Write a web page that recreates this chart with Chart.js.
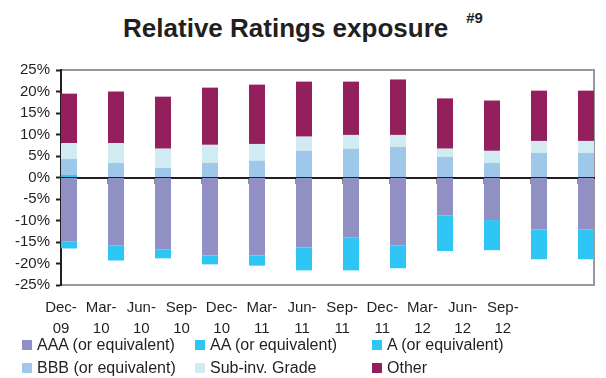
<!DOCTYPE html>
<html>
<head>
<meta charset="utf-8">
<script src="https://cdn.jsdelivr.net/npm/chart.js@4.4.0/dist/chart.umd.min.js"></script>
<style>
  body { margin: 0; background: #fff; font-family: Arial, "Liberation Sans", sans-serif; color: #231f20; }
  #wrap { position: relative; width: 606px; height: 378px; overflow: hidden; }
  #title { position: absolute; top: 13px; left: 0; width: 606px; text-align: center; font-weight: bold; font-size: 26px; line-height: 30px; }
  #title sup { font-size: 15px; vertical-align: top; position: relative; top: -10px; margin-left: 18px; }
  #box { position: absolute; left: 0; top: 48px; width: 606px; height: 295px; }
  #legend { position: absolute; left: 22px; top: 335px; display: grid; grid-template-columns: 173px 177px 200px; row-gap: 3px; font-size: 16px; }
  .item { display: flex; align-items: center; height: 20px; white-space: nowrap; }
  .swatch { width: 10px; height: 10px; margin-right: 5px; }
</style>
</head>
<body>
<div id="wrap">
  <div id="title">Relative Ratings exposure<sup>#9</sup></div>
  <div id="box"><canvas id="ratingsChart"></canvas></div>
  <div id="legend"></div>
</div>
<script>
// quarter ends
const periods = ['Dec-09', 'Mar-10', 'Jun-10', 'Sep-10', 'Dec-10', 'Mar-11',
                 'Jun-11', 'Sep-11', 'Dec-11', 'Mar-12', 'Jun-12', 'Sep-12'];

// relative exposure by rating bucket, % points
const aaa     = [-14.9, -15.8, -16.7, -18.1, -18.1, -16.3, -13.9, -15.8, -8.8, -9.9, -12.1, -12.1];
const aa      = [-1.6, -3.5, -2.1, -2.1, -2.4, -5.3, -7.7, -5.3, -8.3, -7.0, -6.9, -6.9];
const singleA = [0.6, 0, 0, 0, 0, 0, 0, 0, 0, 0, 0, 0];
const bbb     = [3.7, 3.4, 2.2, 3.4, 3.9, 6.2, 6.7, 7.1, 4.8, 3.4, 5.7, 5.7];
const subInv  = [3.7, 4.6, 4.5, 4.2, 3.9, 3.3, 3.2, 2.8, 1.9, 2.8, 2.8, 2.8];
const other   = [11.5, 12.0, 12.1, 13.3, 13.8, 12.8, 12.4, 12.9, 11.7, 11.7, 11.7, 11.7];

const yTicks = [-25, -20, -15, -10, -5, 0, 5, 10, 15, 20, 25];

const seriesNames = ['AAA (or equivalent)', 'AA (or equivalent)', 'A (or equivalent)',
                     'BBB (or equivalent)', 'Sub-inv. Grade', 'Other'];
const seriesValues = [aaa, aa, singleA, bbb, subInv, other];
const seriesColors = ['#9190c5', '#2fc5f4', '#2fc5f4', '#9fc7ea', '#d0ebf2', '#931f5c'];

const barFrac = 0.34;   // share of each slot taken by the bar
const ink = '#231f20';
const fontFamily = 'Arial, "Liberation Sans", sans-serif';

const datasets = seriesNames.map((name, s) => ({
    label: name,
    data: seriesValues[s].map((v, i) => ({ x: i, y: v })),
    backgroundColor: seriesColors[s],
    borderWidth: 0,
    xAxisID: 'x',
    yAxisID: 'y',
    categoryPercentage: barFrac,
    barPercentage: 1
}));

// grey frame round the plot area
const framePlugin = {
    id: 'frame',
    beforeDraw(chart) {
        const { ctx, chartArea: a } = chart;
        ctx.save();
        ctx.strokeStyle = '#98989b';
        ctx.lineWidth = 2;
        ctx.strokeRect(a.left, a.top, a.right - a.left, a.bottom - a.top);
        ctx.restore();
    }
};

new Chart(document.getElementById('ratingsChart'), {
    type: 'bar',
    data: { datasets },
    options: {
        responsive: true,
        maintainAspectRatio: false,
        animation: false,
        layout: { padding: { left: 9, right: 12, top: 22, bottom: 0 } },
        plugins: { legend: { display: false }, tooltip: { enabled: false } },
        scales: {
            x: {
                type: 'linear',
                position: { y: 0 },
                stacked: true,
                offset: false,
                min: -barFrac / 2,
                max: periods.length - 1 + barFrac / 2,
                z: 1,
                afterBuildTicks: scale => {
                    scale.ticks = periods.map((p, i) => ({ value: i - barFrac / 2 }));
                },
                ticks: { display: false },
                grid: { drawOnChartArea: false, offset: false, tickLength: 5, tickColor: ink, tickWidth: 2 },
                border: { color: ink, width: 2 }
            },
            xl: {
                type: 'linear',
                axis: 'x',
                position: 'bottom',
                offset: false,
                min: 0,
                max: 13.27,
                afterBuildTicks: scale => {
                    scale.ticks = periods.map((p, i) => ({ value: i }));
                },
                ticks: {
                    padding: 4,
                    maxRotation: 0,
                    autoSkip: false,
                    color: ink,
                    font: { family: fontFamily, size: 15, lineHeight: 1.4 },
                    callback: v => {
                        const p = periods[v];
                        if (!p) return '';
                        const parts = p.split('-');
                        return [parts[0] + '-', parts[1]];
                    }
                },
                grid: { display: false },
                border: { display: false }
            },
            y: {
                stacked: true,
                min: -25,
                max: 25,
                afterBuildTicks: scale => {
                    scale.ticks = yTicks.map(v => ({ value: v }));
                },
                ticks: {
                    padding: 6,
                    autoSkip: false,
                    color: ink,
                    font: { family: fontFamily, size: 15 },
                    callback: v => v + '%'
                },
                grid: { drawOnChartArea: false, tickLength: 5, tickColor: ink, tickWidth: 2 },
                border: { color: ink, width: 2 }
            }
        }
    },
    plugins: [framePlugin]
});

// legend in three columns
const legend = document.getElementById('legend');
seriesNames.forEach((name, s) => {
    const item = document.createElement('div');
    item.className = 'item';
    item.innerHTML = `<span class="swatch" style="background:${seriesColors[s]}"></span><span>${name}</span>`;
    legend.appendChild(item);
});
</script>
</body>
</html>
